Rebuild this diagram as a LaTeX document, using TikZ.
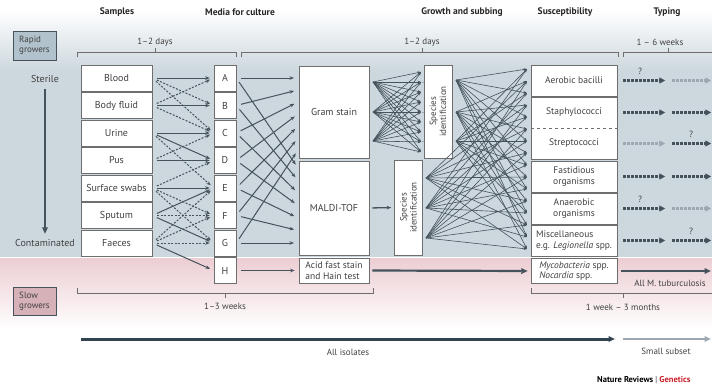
\documentclass[tikz,border=0pt]{standalone}
\usepackage{fontspec}
\setmainfont{PT Sans}
\usetikzlibrary{arrows.meta}
\definecolor{bgblue}{RGB}{205,216,222}
\definecolor{bgpink}{RGB}{236,206,211}
\definecolor{linec}{RGB}{70,82,92}
\definecolor{lightc}{RGB}{158,168,178}
\definecolor{txtc}{RGB}{65,65,65}
\definecolor{brc}{RGB}{110,110,110}
\definecolor{rapidc}{RGB}{178,194,204}
\definecolor{slowc}{RGB}{214,178,184}
\definecolor{natred}{RGB}{200,30,40}
\begin{document}
\begin{tikzpicture}[x=1pt, y=-1pt, >={Stealth[length=4.5pt,width=3.5pt]},
  box/.style={draw=brc, fill=white, line width=0.5pt, inner sep=1pt, text=txtc, font=\fontsize{10}{11}\selectfont},
  sbox/.style={box, minimum width=71pt, minimum height=26pt},
  mbox/.style={box, minimum width=22pt, minimum height=26pt},
  bigbox/.style={box, minimum width=70pt},
  spbox/.style={box, minimum width=28pt},
  susbox/.style={box, minimum width=86pt, minimum height=31pt, align=center, font=\fontsize{9.5}{10.5}\selectfont},
  head/.style={font=\bfseries\fontsize{9.5}{10}\selectfont, text=black!85},
  lab/.style={font=\fontsize{9}{10}\selectfont, text=txtc},
  sol/.style={draw=linec, line width=1pt, ->, shorten <=5pt, shorten >=4pt},
  das/.style={sol, dash pattern=on 2pt off 1.5pt},
  net/.style={draw=linec, line width=0.6pt, -{Stealth[length=3.5pt,width=2.6pt]}},
  typ/.style={line width=2.2pt, dash pattern=on 2.6pt off 1.4pt, -{Triangle[length=6pt,width=6pt]}},
  fat/.style={draw=linec, line width=2.2pt, -{Triangle[length=6.5pt,width=5.5pt]}},
  brk/.style={draw=brc, line width=0.6pt}]

  \useasboundingbox (0,0) rectangle (712,388);

  % 背景
  \shade[top color=white, bottom color=bgblue] (0,10) rectangle (712,70);
  \fill[bgblue] (0,70) rectangle (712,257);
  \shade[top color=bgpink, bottom color=white] (0,258.5) rectangle (712,330);

  % 見出し
  \node[head] (hsam) at (117,12) {Samples};
  \node[head] (hmed) at (240,12) {Media for culture};
  \node[head] (hgro) at (462,12) {Growth and subbing};
  \node[head] (hsus) at (565,12) {Susceptibility};
  \node[head] (htyp) at (667,12) {Typing};

  % 増殖の速さ
  \node[draw=linec, fill=rapidc, line width=0.6pt, minimum width=43pt, minimum height=29pt,
        align=left, inner sep=2pt, lab] (rapid) at (34.5,45.5) {Rapid\\growers};
  \node[draw=linec, fill=slowc, line width=0.6pt, minimum width=43pt, minimum height=28pt,
        align=left, inner sep=2pt, lab] (slow) at (34.5,301) {Slow\\growers};

  % 期間の括弧
  \draw[brk] (77,57) -- (77,52) -- (236,52) -- (236,57);
  \draw[brk] (155,52) -- (155,48);
  \node[lab] (d1) at (155,42) {1--2 days};
  \draw[brk] (241,57) -- (241,52) -- (618,52) -- (618,57);
  \draw[brk] (422,52) -- (422,48);
  \node[lab] (d2) at (422,42) {1--2 days};
  \draw[brk] (623,57) -- (623,52) -- (712,52);
  \draw[brk] (668,52) -- (668,48);
  \node[lab] (d3) at (660,42) {1 -- 6 weeks};
  \draw[brk] (77,288) -- (77,293) -- (373,293) -- (373,288);
  \draw[brk] (225,293) -- (225,298);
  \node[lab] (d4) at (225,306) {1--3 weeks};
  \draw[brk] (531,288) -- (531,293) -- (712,293);
  \draw[brk] (623,293) -- (623,298);
  \node[lab] (d5) at (623,307) {1 week -- 3 months};

  % 無菌から汚染へ
  \node[lab, font=\fontsize{10}{11}\selectfont] (ster) at (45,79) {Sterile};
  \node[lab, font=\fontsize{10}{11}\selectfont] (cont) at (45,243) {Contaminated};
  \draw[fat, line width=2.4pt, shorten <=3pt, shorten >=2pt] (ster) -- (cont);

  % 検体と培地
  \foreach \lab [count=\i] in {Blood, Body fluid, Urine, Pus, Surface swabs, Sputum, Faeces}
    \node[sbox] (s\i) at (116.5,{78+27.5*(\i-1)}) {\lab};
  \foreach \lab [count=\i] in {A,...,H}
    \node[mbox] (m\i) at (225,{78+27.5*(\i-1)}) {\lab};

  \foreach \a/\b in {1/1,2/2,3/3,3/4,4/4,5/5,6/5,6/7,7/8}
    \draw[sol] (s\a.east) -- (m\b.west);
  \foreach \a/\b in {1/2,1/3,2/1,2/3,4/3,3/5,5/4,5/6,5/7,6/6,7/7,7/6,7/5}
    \draw[das] (s\a.east) -- (m\b.west);

  % 染色と MALDI-TOF
  \node[bigbox, minimum height=92pt] (gram) at (334,112) {Gram stain};
  \node[bigbox, minimum height=94pt] (maldi) at (334,208) {MALDI-TOF};
  \node[bigbox, minimum height=25pt, align=left, font=\fontsize{9.5}{10.5}\selectfont] (acid) at (334,270.5)
    {Acid fast stain\\and Hain test};

  \foreach \i in {1,...,7} {
    \coordinate (gi\i) at (298,{78+12*(\i-1)});
    \coordinate (mi\i) at (298,{168+12.5*(\i-1)});
    \draw[sol] (m\i.east) -- (gi\i);
    \draw[sol] (m\i.east) -- (mi\i);
  }
  \draw[sol] (m8.east) -- (acid.west);

  % 菌種同定
  \node[spbox, minimum height=93pt] (sp1) at (438,111.5) {};
  \node[lab, rotate=90, align=center] (sp1t) at (sp1) {Species\\identification};
  \node[spbox, minimum height=95pt] (sp2) at (408.5,207.5) {};
  \node[lab, rotate=90, align=center] (sp2t) at (sp2) {Species\\identification};

  \foreach \y [count=\j] in {82,112,141} {
    \coordinate (go\j) at (373,\y);
    \coordinate (gd\j) at (424,\y);
    \draw[draw=lightc, line width=0.8pt, dash pattern=on 2pt off 1.5pt] (go\j) -- (gd\j);
  }
  \foreach \k in {1,...,9}
    \coordinate (gt\k) at (421,{72+10*(\k-1)});
  \foreach \j in {1,2,3}
    \foreach \k in {1,...,9}
      \draw[net] (go\j) -- (gt\k);
  \draw[sol, line width=1.3pt, shorten <=3pt, shorten >=3pt] (maldi.east) -- (sp2.west);

  % 薬剤感受性
  \node[susbox] (aer) at (574,80.5) {Aerobic bacilli};
  \node[susbox, draw=none] (sta) at (574,112.5) {Staphylococci};
  \node[susbox, draw=none] (str) at (574,143.5) {Streptococci};
  \draw[draw=brc, line width=0.5pt] (sta.north west) rectangle (str.south east);
  \draw[draw=brc, line width=0.5pt, dashed] (sta.south west) -- (sta.south east);
  \node[susbox] (fas) at (574,176.5) {Fastidious\\organisms};
  \node[susbox] (ana) at (574,208.5) {Anaerobic\\organisms};
  \node[susbox, align=left] (mis) at (574,240.5) {Miscellaneous\\e.g. \textit{Legionella} spp.};
  \node[susbox, minimum height=25pt, align=left] (myc) at (574,271)
    {\textit{Mycobacteria} spp.\\\textit{Nocardia} spp.};

  \foreach \x/\y [count=\j] in {456/80,456/112,456/141,426/178,426/208,426/238}
    \coordinate (so\j) at (\x,\y);
  \foreach \k in {1,...,16}
    \coordinate (st\k) at (527,{69+12*(\k-1)});
  \foreach \j in {1,...,6}
    \foreach \k in {1,...,16} {
      \pgfmathtruncatemacro{\parity}{mod(\j+\k,2)}
      \ifnum\parity=0 \draw[net] (so\j) -- (st\k); \fi
    }

  % 型別
  \foreach \bx/\ca/\cb in {aer/linec/lightc, sta/linec/linec, str/lightc/linec,
                           fas/linec/linec, ana/linec/lightc, mis/linec/linec} {
    \draw[typ, color=\ca] ([xshift=6pt]\bx.east) -- ([xshift=48pt]\bx.east);
    \draw[typ, color=\cb] ([xshift=55pt]\bx.east) -- ([xshift=94pt]\bx.east);
  }
  \node[lab] (q1) at (640,71) {?};
  \node[lab] (q2) at (691,134) {?};
  \node[lab] (q3) at (640,199) {?};
  \node[lab] (q4) at (691,231) {?};

  % 抗酸菌
  \coordinate (mtb) at (711,271);
  \draw[fat, shorten <=3pt, shorten >=3pt] (acid.east) -- (myc.west);
  \draw[fat, shorten <=4pt] (myc.east) -- (mtb);
  \node[lab] (mtbl) at (670,283) {All M. tuburculosis};

  % 全体の流れ
  \coordinate (ai1) at (81,339);
  \coordinate (ai2) at (615,339);
  \coordinate (ss1) at (623,339);
  \coordinate (ss2) at (711,339);
  \draw[fat, line width=3pt, draw={rgb,255:red,50;green,68;blue,80}] (ai1) -- (ai2);
  \draw[fat, line width=2.2pt, color=lightc] (ss1) -- (ss2);
  \node[lab] (ail) at (348,352) {All isolates};
  \node[lab] (ssl) at (666,351) {Small subset};

  \node[anchor=west, font=\bfseries\fontsize{8.5}{9}\selectfont, inner sep=0pt] (nr) at (597,380)
    {Nature Reviews {\color{gray}|} \textcolor{natred}{Genetics}};

\end{tikzpicture}
\end{document}
